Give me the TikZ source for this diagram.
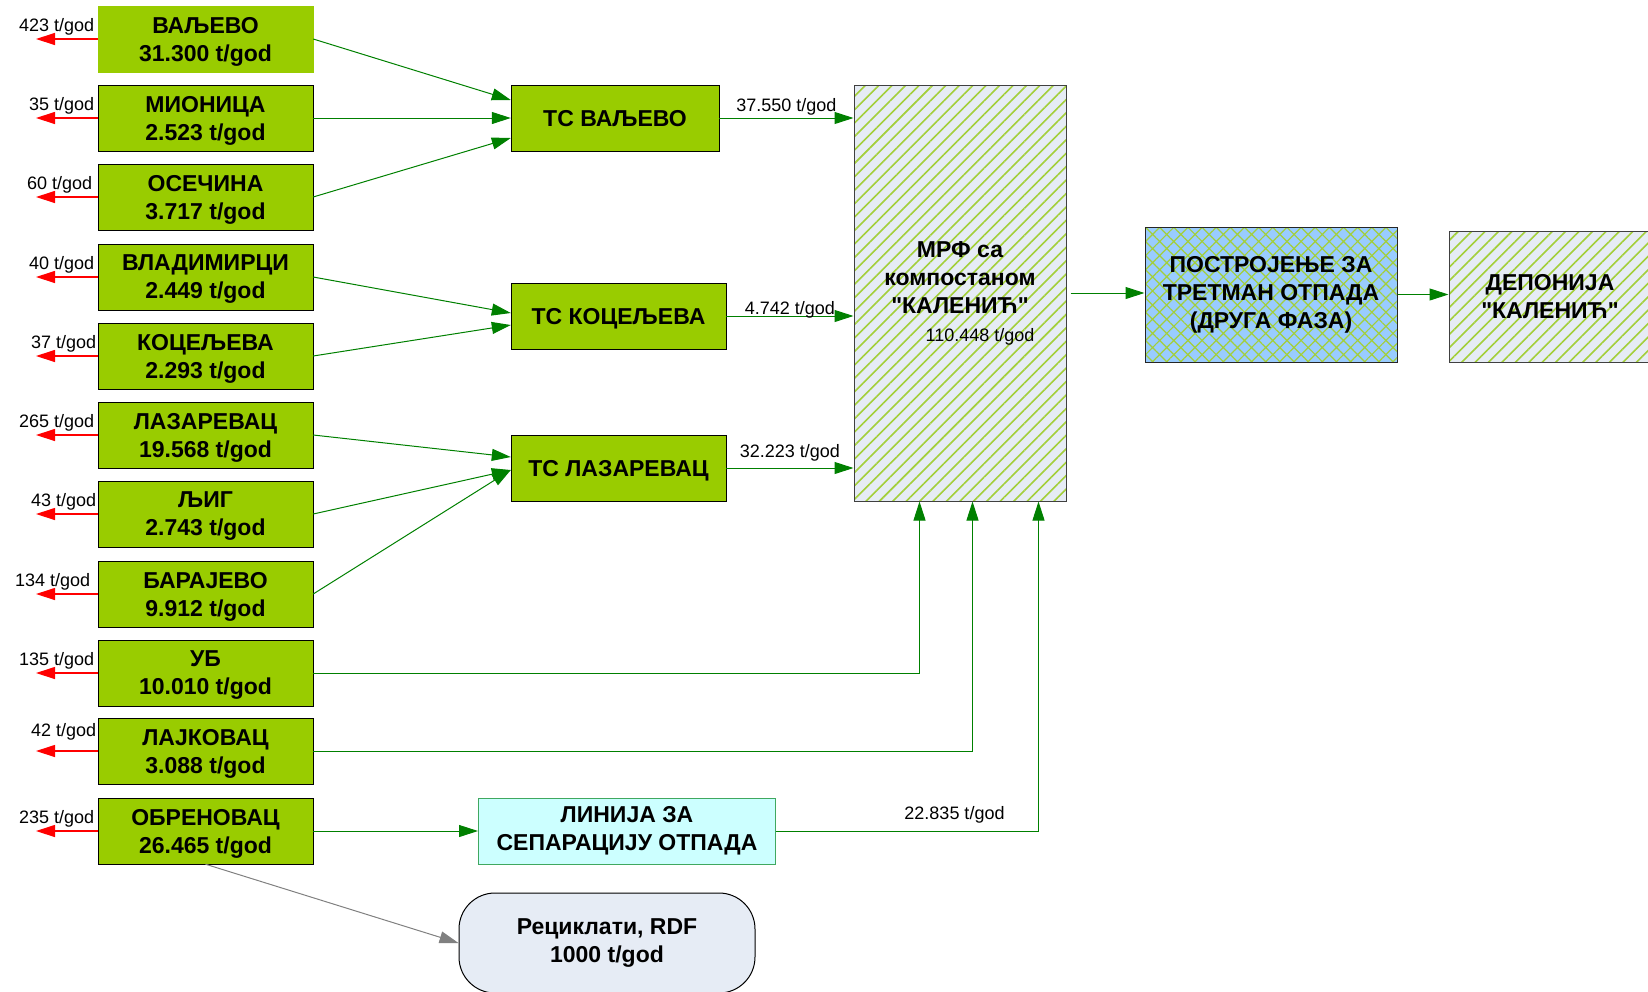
\documentclass[tikz,border=0pt]{standalone}
\usepackage{fontspec}
\setmainfont{Liberation Sans}[Ligatures=TeXOff]
\usetikzlibrary{arrows.meta,patterns.meta}
\usetikzlibrary{positioning}

\definecolor{boxgreen}{HTML}{99CC00}
\definecolor{arrowgreen}{HTML}{008000}
\definecolor{hatchgreen}{HTML}{A3CF3A}
\definecolor{paleblue}{HTML}{E6ECF5}
\definecolor{plantblue}{HTML}{99CCFF}
\definecolor{lineblue}{HTML}{CCFFFF}
\definecolor{lineborder}{HTML}{40A860}

\begin{document}
\begin{tikzpicture}[x=1pt,y=-1pt,
    >={Triangle[length=19pt,width=12pt]},
    city/.style={draw=black,fill=boxgreen,minimum width=215pt,minimum height=66pt,
        align=center,inner sep=2pt,text depth=0pt,font=\bfseries\fontsize{23}{28}\selectfont},
    station/.style={city},
    flow/.style={draw=arrowgreen,line width=1pt,->},
    loss/.style={draw=red,line width=1.2pt,->},
    losslabel/.style={anchor=base east,xshift=-3pt,yshift=8pt,inner sep=0pt,
        font=\fontsize{18}{21}\selectfont},
    amount/.style={font=\fontsize{18}{21}\selectfont,inner sep=2pt},
    hatched/.style={draw=black!75,line width=1pt,preaction={fill=paleblue},
        preaction={pattern={Lines[angle=45,distance=9.5pt,line width=1.6pt]},pattern color=hatchgreen},
        align=center,font=\bfseries\fontsize{23}{28}\selectfont}]

    \useasboundingbox (0,0) rectangle (1648,991);

    % municipalities
    \begin{scope}[every node/.style={city}]
        \node[draw=boxgreen] (valjevo) at (205.5,39) {ВАЉЕВО\\31.300 t/god};
        \node (mionica) at (205.5,118) {МИОНИЦА\\2.523 t/god};
        \node (osecina) at (205.5,197) {ОСЕЧИНА\\3.717 t/god};
        \node (vladimirci) at (205.5,277) {ВЛАДИМИРЦИ\\2.449 t/god};
        \node (koceljeva) at (205.5,356) {КОЦЕЉЕВА\\2.293 t/god};
        \node (lazarevac) at (205.5,435) {ЛАЗАРЕВАЦ\\19.568 t/god};
        \node (ljig) at (205.5,514) {ЉИГ\\2.743 t/god};
        \node (barajevo) at (205.5,594) {БАРАЈЕВО\\9.912 t/god};
        \node (ub) at (205.5,673) {УБ\\10.010 t/god};
        \node (lajkovac) at (205.5,751) {ЛАЈКОВАЦ\\3.088 t/god};
        \node (obrenovac) at (205.5,831) {ОБРЕНОВАЦ\\26.465 t/god};
    \end{scope}

    % transfer stations
    \node[station,minimum width=208pt] (tsv) at (615,118) {ТС ВАЉЕВО};
    \node[station] (tsk) at (618.5,316) {ТС КОЦЕЉЕВА};
    \node[station] (tsl) at (618.5,468) {ТС ЛАЗАРЕВАЦ};

    \node[hatched,minimum width=212pt,minimum height=416pt] (mrf) at (960,293)
        {МРФ са\\компостаном\\"КАЛЕНИЋ"\\\hspace*{40pt}{\mdseries\fontsize{18}{28}\selectfont 110.448 t/god}};
    \node[draw=black!85,line width=1pt,preaction={fill=plantblue},
        preaction={pattern={Hatch[angle=45,distance=10pt,line width=1.2pt]},pattern color=hatchgreen},
        minimum width=252pt,minimum height=135pt,align=center,
        font=\bfseries\fontsize{23}{28}\selectfont] (plant) at (1271,294.5)
        {ПОСТРОЈЕЊЕ ЗА\\ТРЕТМАН ОТПАДА\\(ДРУГА ФАЗА)};
    \node[hatched,minimum width=202pt,minimum height=131pt] (landfill) at (1550,296.5)
        {ДЕПОНИЈА\\"КАЛЕНИЋ"};

    \node[draw=lineborder,line width=1pt,fill=lineblue,minimum width=297pt,minimum height=66pt,
        align=center,font=\bfseries\fontsize{23}{28}\selectfont] (separation) at (627,831)
        {ЛИНИЈА ЗА\\СЕПАРАЦИЈУ ОТПАДА};
    \node[draw=black,line width=1pt,fill=paleblue,rounded corners=36pt,minimum width=296pt,
        minimum height=100pt,align=center,font=\bfseries\fontsize{23}{28}\selectfont] (recycl) at (607,943)
        {Рециклати, RDF\\1000 t/god};

    % losses
    \coordinate (lossend) at (36,0);
    \draw[loss] (valjevo.west) node[losslabel] {423 t/god} -- (valjevo.west -| lossend);
    \draw[loss] (mionica.west) node[losslabel] {35 t/god} -- (mionica.west -| lossend);
    \draw[loss] (osecina.west) node[losslabel,xshift=-2pt] {60 t/god} -- (osecina.west -| lossend);
    \draw[loss] (vladimirci.west) node[losslabel] {40 t/god} -- (vladimirci.west -| lossend);
    \draw[loss] (koceljeva.west) node[losslabel,xshift=2pt] {37 t/god} -- (koceljeva.west -| lossend);
    \draw[loss] (lazarevac.west) node[losslabel] {265 t/god} -- (lazarevac.west -| lossend);
    \draw[loss] (ljig.west) node[losslabel,xshift=2pt] {43 t/god} -- (ljig.west -| lossend);
    \draw[loss] (barajevo.west) node[losslabel,xshift=-4pt] {134 t/god} -- (barajevo.west -| lossend);
    \draw[loss] (ub.west) node[losslabel] {135 t/god} -- (ub.west -| lossend);
    \draw[loss] (lajkovac.west) node[losslabel,xshift=2pt,yshift=7pt] {42 t/god} -- (lajkovac.west -| lossend);
    \draw[loss] (obrenovac.west) node[losslabel] {235 t/god} -- (obrenovac.west -| lossend);

    % to transfer stations
    \draw[flow] (valjevo.east) -- ([yshift=18pt]tsv.west);
    \draw[flow] (mionica.east) -- (tsv.west);
    \draw[flow] (osecina.east) -- ([yshift=-20pt]tsv.west);
    \draw[flow] (vladimirci.east) -- ([yshift=3pt]tsk.west);
    \draw[flow] (koceljeva.east) -- ([yshift=-9pt]tsk.west);
    \draw[flow] (lazarevac.east) -- ([yshift=11pt]tsl.west);
    \draw[flow] (ljig.east) -- ([yshift=-2pt]tsl.west);
    \draw[flow] (barajevo.east) -- ([yshift=-2pt]tsl.west);

    % to MRF
    \draw[flow] (tsv.east) -- (tsv.east -| mrf.west) node[amount,midway,above] {37.550 t/god};
    \draw[flow] (tsk.east) -- (tsk.east -| mrf.west) node[amount,midway,above,yshift=-5pt] {4.742 t/god};
    \draw[flow] (tsl.east) -- (tsl.east -| mrf.west) node[amount,midway,above,yshift=4pt] {32.223 t/god};
    \draw[flow] (ub.east) -| ([xshift=66pt]mrf.south west);
    \draw[flow] (lajkovac.east) -| ([xshift=119pt]mrf.south west);
    \draw[flow] (obrenovac.east) -- (separation.west);
    \draw[flow] (separation.east) -| ([xshift=185pt]mrf.south west)
        node[amount,pos=0.34,above,yshift=5pt] {22.835 t/god};
    \draw[draw=gray,line width=1pt,->,>={Triangle[length=19pt,width=12pt,fill=gray]}]
        (obrenovac.south) -- (recycl.west);

    % treatment and landfill
    \draw[flow,shorten <=4pt] (mrf.east) -- (mrf.east -| plant.west);
    \draw[flow] (plant.east) -- (plant.east -| landfill.west);
\end{tikzpicture}
\end{document}
